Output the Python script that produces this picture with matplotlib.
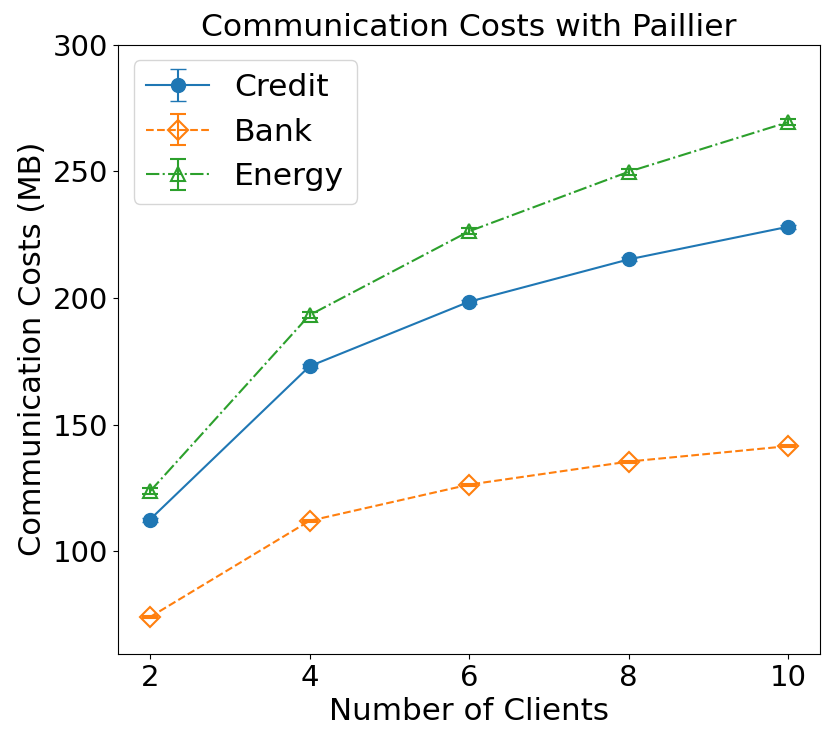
import numpy as np
import matplotlib
matplotlib.use("Agg")
from matplotlib import pyplot as plt

clients = [2, 4, 6, 8, 10]
credit = [112.5, 173.0, 198.5, 215.2, 228.1]
credit_err = [0.8, 0.8, 0.8, 0.8, 0.8]
bank = [74.0, 112.0, 126.3, 135.4, 141.5]
bank_err = [0.4, 0.4, 0.4, 0.4, 0.4]
energy = [123.6, 193.2, 226.3, 249.8, 269.4]
energy_err = [1.2, 1.2, 1.2, 1.2, 1.2]

plt.rcParams['font.size'] = 21
fig, ax = plt.subplots(figsize=(8.31, 7.43), dpi=100)
fig.subplots_adjust(left=0.142, right=0.987, top=0.94, bottom=0.12)

ax.errorbar(clients, credit, yerr=credit_err, fmt='o-', color='tab:blue',
            markersize=10, capsize=6, label='Credit')
ax.errorbar(clients, bank, yerr=bank_err, fmt='D--', color='tab:orange',
            markersize=10, capsize=6, markerfacecolor='none', markeredgewidth=1.5,
            label='Bank')
ax.errorbar(clients, energy, yerr=energy_err, fmt='^-.', color='tab:green',
            markersize=10, capsize=6, markerfacecolor='none', markeredgewidth=1.5,
            label='Energy')

ax.set_ylim(59.5, 300)
ax.set_xticks(clients)
ax.tick_params(labelsize=21)
ax.set_xlabel('Number of Clients', fontsize=22.3)
ax.set_ylabel('Communication Costs (MB)', fontsize=22)
ax.set_title('Communication Costs with Paillier', fontsize=22.6)
ax.legend(loc='upper left', fontsize=22.6)

fig.savefig('out.png')
